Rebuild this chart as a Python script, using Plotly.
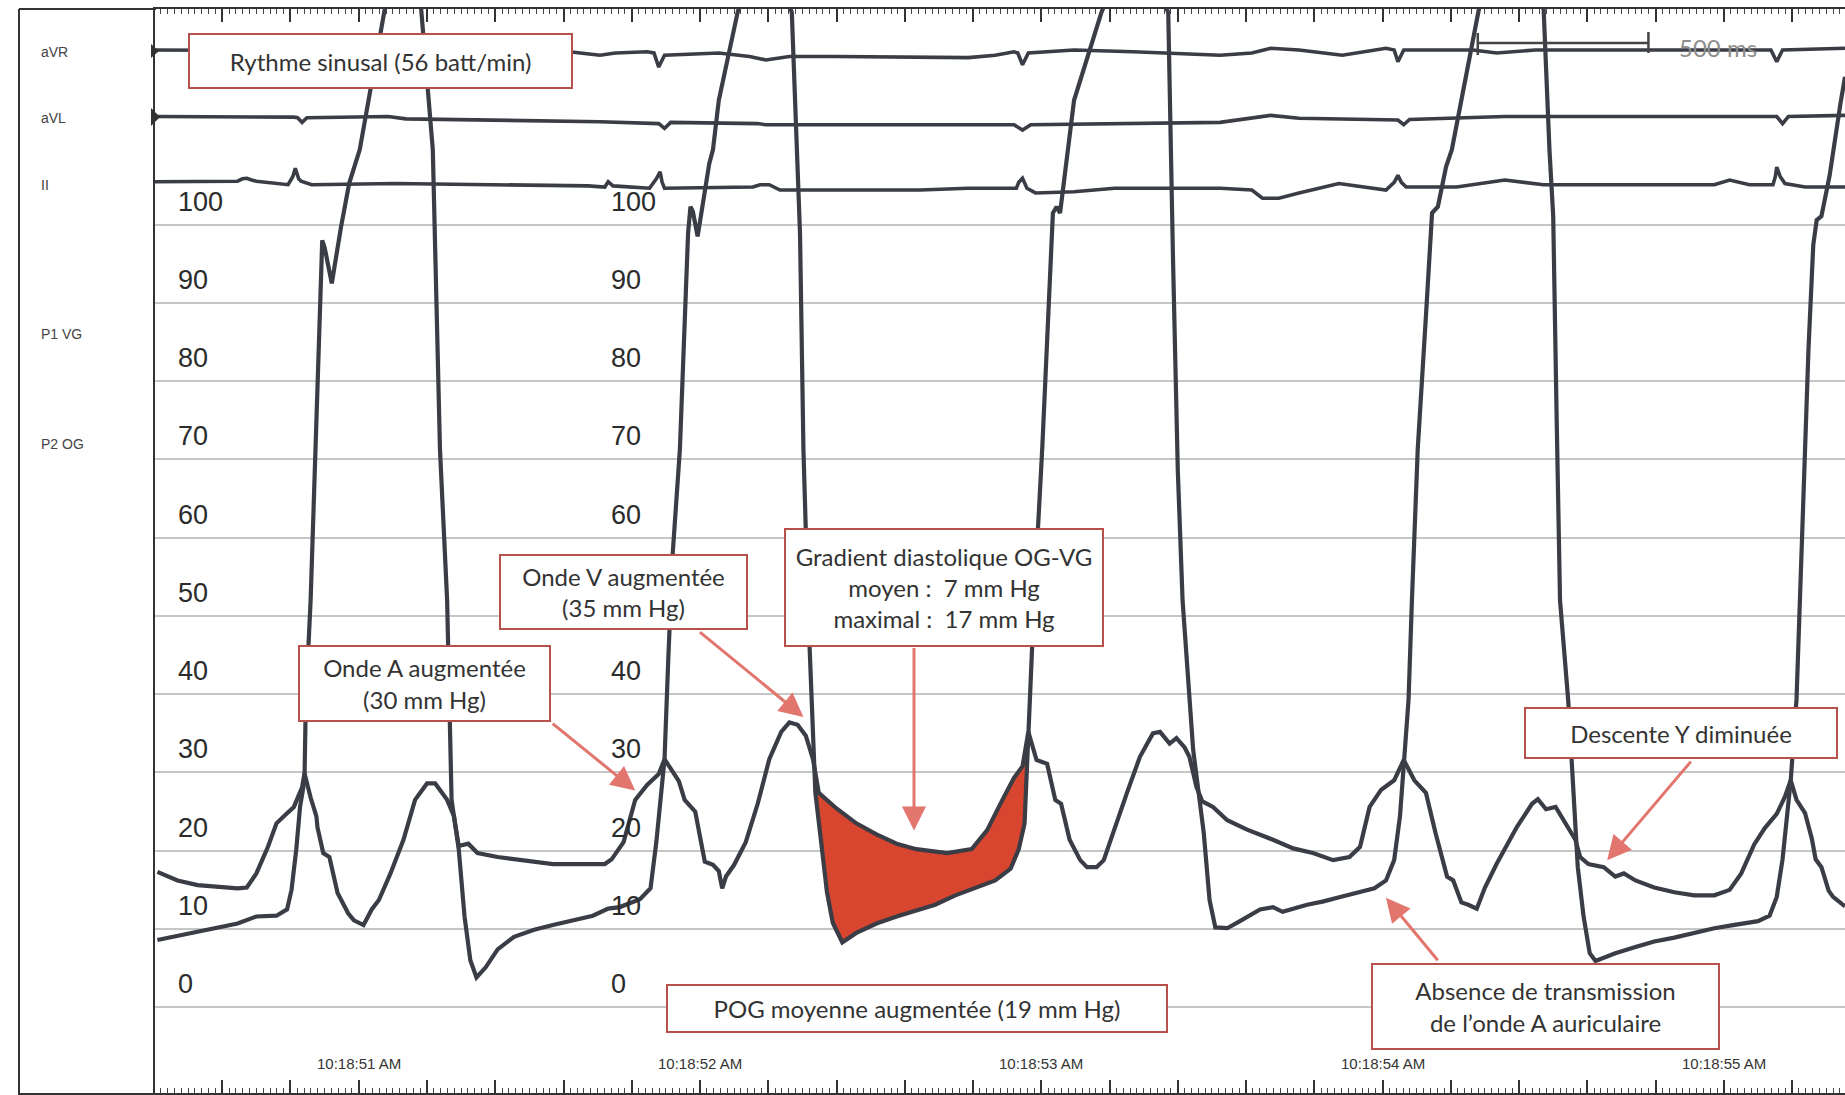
import plotly.graph_objects as go

# ---------------------------------------------------------------------------
# Time base: milliseconds after 10:18:50 AM
# ---------------------------------------------------------------------------
TIME_LABEL_MS = [1000, 2000, 3000, 4000, 5000]
TIME_LABELS = ["10:18:51 AM", "10:18:52 AM", "10:18:53 AM", "10:18:54 AM", "10:18:55 AM"]

# P1 VG : left ventricular pressure (mm Hg)
LV_T = [410, 528, 645, 700, 759, 790, 803, 817, 828, 841,
        845, 859, 872, 890, 893, 900, 921, 948, 972, 1003,
        1076, 1127, 1183, 1217, 1238, 1259, 1272, 1293, 1310, 1327,
        1345, 1372, 1407, 1455, 1514, 1569, 1627, 1686, 1731, 1765,
        1824, 1855, 1872, 1886, 1896, 1907, 1920, 1941, 1955, 1965,
        1972, 1979, 1993, 2014, 2027, 2038, 2055, 2110, 2189, 2269,
        2283, 2293, 2300, 2303, 2317, 2338, 2355, 2372, 2389, 2417,
        2458, 2517, 2576, 2631, 2689, 2748, 2807, 2865, 2910, 2934,
        2951, 2958, 2962, 2969, 2979, 3003, 3027, 3034, 3045, 3055,
        3096, 3176, 3276, 3372, 3386, 3400, 3414, 3445, 3476, 3493,
        3510, 3545, 3582, 3641, 3679, 3707, 3779, 3824, 3876, 3934,
        3976, 4010, 4034, 4051, 4062, 4076, 4086, 4103, 4127, 4145,
        4162, 4186, 4203, 4282, 4379, 4472, 4489, 4500, 4510, 4520,
        4544, 4562, 4572, 4589, 4607, 4624, 4658, 4682, 4741, 4796,
        4855, 4913, 4972, 5027, 5100, 5134, 5155, 5172, 5186, 5196,
        5213, 5234, 5248, 5262, 5272, 5286, 5310, 5341, 5355]
LV_P = [8.6, 9.6, 10.7, 11.6, 11.7, 12.5, 15.0, 20.2, 25.6, 29.0,
        39.2, 52.0, 71.3, 93.8, 98.0, 97.1, 92.5, 99.7, 105.3, 109.6,
        127.5, 138, 127.5, 109.6, 71.3, 52.0, 26.5, 20.2, 11.6, 6.0,
        3.8, 5.1, 7.4, 9.0, 9.9, 10.5, 11.1, 11.7, 12.6, 12.8,
        13.8, 15.2, 21.1, 26.9, 31.7, 44.5, 58.0, 71.3, 88.3, 98.9,
        102.3, 101.7, 98.5, 104.5, 107.8, 109.6, 115.9, 127.1, 138, 127.1,
        109.6, 98.9, 79.7, 71.3, 50.5, 27.4, 21.1, 14.7, 10.8, 8.3,
        9.5, 10.7, 11.6, 12.3, 13.1, 14.3, 15.2, 16.2, 17.7, 20.2,
        23.5, 30.8, 35.2, 43.5, 52.0, 71.6, 95.5, 101.5, 102.3, 101.5,
        115.9, 127.1, 138, 127.1, 95.5, 68.6, 52.0, 32.9, 22.3, 13.7,
        10.2, 10.1, 11.0, 12.5, 12.8, 12.2, 13.1, 13.5, 14.1, 14.7,
        15.2, 16.2, 18.8, 24.4, 31.0, 39.2, 52.0, 71.3, 88.3, 101.5,
        102.3, 107.4, 109.6, 127.5, 138, 127.5, 109.6, 101.1, 75.5, 52.0,
        39.2, 26.5, 17.9, 11.6, 6.9, 5.9, 6.5, 6.9, 7.7, 8.4,
        8.9, 9.5, 10.1, 10.5, 11.0, 11.7, 14.1, 18.9, 25.0, 29.0,
        39.4, 66.2, 84.1, 97.4, 100.6, 101.1, 106.3, 115.3, 118.9]

# P2 OG : left atrial pressure (mm Hg)
LA_T = [410, 469, 528, 645, 672, 700, 734, 759, 783, 810,
        834, 841, 859, 876, 879, 896, 914, 938, 969, 986,
        1014, 1038, 1059, 1093, 1131, 1165, 1200, 1224, 1259, 1279,
        1293, 1321, 1348, 1407, 1569, 1686, 1721, 1741, 1776, 1810,
        1845, 1879, 1896, 1938, 1955, 1986, 2014, 2038, 2055, 2065,
        2076, 2100, 2134, 2169, 2203, 2238, 2262, 2286, 2310, 2331,
        2348, 2400, 2458, 2517, 2576, 2634, 2724, 2796, 2841, 2886,
        2920, 2945, 2962, 2986, 3017, 3041, 3058, 3083, 3114, 3134,
        3162, 3183, 3210, 3251, 3289, 3327, 3348, 3376, 3396, 3420,
        3434, 3455, 3472, 3503, 3545, 3603, 3679, 3738, 3796, 3855,
        3903, 3934, 3962, 3996, 4034, 4062, 4093, 4127, 4155, 4189,
        4207, 4231, 4251, 4276, 4300, 4334, 4393, 4438, 4455, 4479,
        4507, 4544, 4565, 4579, 4603, 4648, 4682, 4707, 4741, 4796,
        4855, 4913, 4972, 5017, 5051, 5089, 5120, 5155, 5179, 5196,
        5213, 5238, 5258, 5269, 5286, 5307, 5320, 5355]
LA_P = [17.3, 16.2, 15.6, 15.2, 15.3, 17.1, 20.5, 23.5, 24.5, 25.6,
        28.1, 29.9, 26.8, 24.4, 23.0, 19.7, 19.2, 14.6, 12.0, 11.1,
        10.5, 12.5, 13.7, 17.1, 21.4, 26.5, 28.6, 28.6, 26.5, 24.4,
        20.6, 20.9, 19.7, 19.2, 18.3, 18.2, 18.3, 18.9, 21.1, 26.5,
        28.4, 29.8, 31.7, 28.9, 26.5, 25.0, 18.6, 18.2, 17.4, 15.2,
        16.7, 18.2, 21.1, 26.0, 31.7, 35.2, 36.4, 36.1, 34.7, 31.7,
        27.4, 25.4, 23.5, 22.1, 20.9, 20.2, 19.7, 20.2, 22.6, 26.5,
        29.3, 30.8, 35.2, 31.6, 31.1, 26.5, 26.0, 21.4, 18.8, 17.9,
        17.9, 18.8, 22.3, 27.4, 32.0, 35.0, 35.2, 33.7, 34.4, 33.2,
        32.0, 28.1, 26.3, 25.6, 23.9, 22.7, 21.4, 20.3, 19.7, 18.8,
        19.2, 20.5, 25.6, 27.8, 29.0, 31.6, 29.0, 27.4, 22.3, 16.7,
        16.2, 13.4, 13.1, 12.6, 15.3, 18.3, 23.0, 26.0, 26.6, 25.3,
        25.6, 23.0, 21.4, 19.2, 18.3, 17.9, 16.7, 17.1, 16.2, 15.3,
        14.7, 14.3, 14.3, 15.0, 17.1, 20.8, 22.9, 24.7, 26.9, 29.0,
        26.5, 24.8, 21.5, 18.9, 17.9, 14.9, 14.1, 12.9]

# ECG leads (mV)
AVR_T = [403, 638, 810, 817, 828, 838, 983, 1327, 1617, 1707,
         1752, 1845, 1865, 1879, 1896, 2055, 2145, 2193, 2262, 2400,
         2786, 2865, 2920, 2931, 2945, 2962, 3096, 3269, 3524, 3617,
         3672, 3755, 3882, 4010, 4034, 4045, 4062, 4265, 4334, 4448,
         5138, 5155, 5172, 5355]
AVR_MV = [0.025, 0, 0, -0.05, -0.45, -0.05, 0, -0.05, -0.05, -0.2,
          -0.1, -0.05, -0.1, -0.7, -0.2, -0.1, -0.25, -0.4, -0.25, -0.25,
          -0.3, -0.2, -0.05, -0.1, -0.6, -0.1, 0.025, -0.05, -0.2, -0.1,
          0.1, 0.025, -0.2, 0.1, 0.025, -0.475, 0.025, 0.025, -0.1, 0.025,
          0.025, -0.475, 0.025, 0.1]

AVL_T = [403, 638, 810, 821, 834, 848, 1086, 1138, 1707, 1879,
         1896, 1914, 2169, 2193, 2920, 2945, 2969, 3524, 3672, 3755,
         4045, 4062, 4079, 4358, 5155, 5172, 5189, 5355]
AVL_MV = [0.05, 0.05, 0.025, 0, -0.2, 0, 0.05, -0.05, -0.17, -0.25,
          -0.45, -0.2, -0.25, -0.3, -0.3, -0.525, -0.3, -0.2, 0.1, -0.025,
          -0.1, -0.3, -0.075, 0.05, 0.05, -0.25, 0.05, 0.1]

II_T = [403, 645, 659, 672, 686, 700, 793, 807, 814, 824,
        831, 862, 1107, 1327, 1672, 1721, 1731, 1745, 1852, 1872,
        1883, 1889, 1896, 2155, 2176, 2203, 2234, 2645, 2786, 2927,
        2934, 2945, 2958, 2983, 3096, 3214, 3524, 3617, 3648, 3696,
        3755, 3872, 4010, 4034, 4045, 4055, 4069, 4217, 4358, 4472,
        4972, 5017, 5075, 5144, 5151, 5155, 5165, 5179, 5238, 5355]
II_MV = [0.125, 0.15, 0.25, 0.275, 0.2, 0.15, 0, 0.35, 0.7, 0.25,
         0.15, 0, 0.05, 0, -0.05, -0.1, 0.125, -0.05, -0.15, 0.25,
         0.55, 0.1, -0.15, -0.1, 0, 0, -0.225, -0.225, -0.15, -0.15,
         0.1, 0.275, -0.15, -0.35, -0.3, -0.15, -0.15, -0.225, -0.575, -0.575,
         -0.35, 0.05, -0.225, 0.1, 0.4, 0.1, -0.1, -0.1, 0.2, 0,
         0, 0.2, 0, 0, 0.35, 0.75, 0.35, 0.05, -0.1, -0.1]

PRESSURE_TICKS = list(range(0, 101, 10))
# the second printed scale loses its "50" under the V-wave callout
PRESSURE_TICKS_MID = [v for v in PRESSURE_TICKS if v != 50]
GRADIENT_WINDOW_MS = (2338, 2962)     # diastolic filling period shaded in red
SCALE_BAR_START_MS = 4279
SCALE_BAR_LEN_MS = 500

for a, b in [(LV_T, LV_P), (LA_T, LA_P), (AVR_T, AVR_MV), (AVL_T, AVL_MV), (II_T, II_MV)]:
    assert len(a) == len(b)

# ---------------------------------------------------------------------------
W, H = 1845, 1095


def px(x):
    return x / W


def py(y):
    return 1 - y / H


INK = "#3a3d46"
BOX_EDGE = "#b8514b"
ARROW = "#e2756d"
FILL_RED = "#d8462f"
BOX_FONT = dict(family="Lato, sans-serif", size=24, color="#333333")
NUM_FONT = dict(family="Liberation Sans, Arial, sans-serif", size=27, color="#2b2b2b")
SMALL_FONT = dict(family="Liberation Sans, Arial, sans-serif", size=15, color="#333333")
LEAD_FONT = dict(family="Liberation Sans, Arial, sans-serif", size=14, color="#444444")

fig = go.Figure()

# Mitral gradient area between atrial (top) and ventricular (bottom) pressure
t0, t1 = GRADIENT_WINDOW_MS
la_seg = [(t, p) for t, p in zip(LA_T, LA_P) if t0 <= t <= t1]
lv_seg = [(t, p) for t, p in zip(LV_T, LV_P) if t0 <= t <= t1]
poly = la_seg + lv_seg[::-1]
fig.add_trace(go.Scatter(
    x=[q[0] for q in poly], y=[q[1] for q in poly],
    fill="toself", fillcolor=FILL_RED, mode="lines", line=dict(width=0),
    hoverinfo="skip", showlegend=False, xaxis="x", yaxis="y"))

fig.add_trace(go.Scatter(x=LA_T, y=LA_P, mode="lines", name="P2 OG",
                         line=dict(color=INK, width=4.2), showlegend=False,
                         xaxis="x", yaxis="y"))
fig.add_trace(go.Scatter(x=LV_T, y=LV_P, mode="lines", name="P1 VG",
                         line=dict(color=INK, width=4.2), showlegend=False,
                         xaxis="x", yaxis="y"))

for tt, vv, ax_name, nm in [(AVR_T, AVR_MV, "y2", "aVR"),
                            (AVL_T, AVL_MV, "y3", "aVL"),
                            (II_T, II_MV, "y4", "II")]:
    fig.add_trace(go.Scatter(x=tt, y=vv, mode="lines", name=nm,
                             line=dict(color=INK, width=3.6), showlegend=False,
                             xaxis="x", yaxis=ax_name))

# ---------------------------------------------------------------------------
def ecg_axis(base_y):
    half = 23.5 / H
    c = py(base_y)
    return dict(domain=[c - half, c + half], range=[-1, 1], anchor="x",
                visible=False, showgrid=False, zeroline=False, fixedrange=True)


fig.update_layout(
    width=W, height=H, autosize=False,
    margin=dict(l=0, r=0, t=0, b=0, pad=0),
    paper_bgcolor="white", plot_bgcolor="rgba(0,0,0,0)",
    xaxis=dict(
        domain=[px(155), 1], range=[403, 5355], anchor="y",
        showgrid=False, zeroline=False, showticklabels=False,
        showline=True, linecolor="#333333", linewidth=2, mirror="ticks",
        ticks="inside", tick0=0, dtick=200, ticklen=13, tickwidth=1.5,
        tickcolor="#333333",
        minor=dict(dtick=20, ticks="inside", ticklen=5, tickwidth=1,
                   tickcolor="#444444", showgrid=False),
    ),
    yaxis=dict(
        domain=[py(1093), py(9)], range=[-10.96, 127.57], anchor="x",
        tickmode="array", tickvals=PRESSURE_TICKS, showticklabels=False,
        ticks="", showgrid=True, gridcolor="#c6c6c6", gridwidth=2,
        zeroline=False, showline=True, linecolor="#333333", linewidth=2,
    ),
    yaxis2=ecg_axis(50.6),
    yaxis3=ecg_axis(117.7),
    yaxis4=ecg_axis(184.7),
)

shapes = [
    # outer frame (left column of channel names)
    dict(type="line", xref="paper", yref="paper", x0=px(19), x1=px(19),
         y0=py(9), y1=py(1095), line=dict(color="#333333", width=2)),
    dict(type="line", xref="paper", yref="paper", x0=px(19), x1=px(156),
         y0=py(9), y1=py(9), line=dict(color="#333333", width=2)),
    dict(type="line", xref="paper", yref="paper", x0=px(19), x1=px(156),
         y0=py(1094), y1=py(1094), line=dict(color="#333333", width=2)),
    # channel markers for aVR / aVL
    dict(type="path", xref="paper", yref="paper",
         path=f"M {px(151)},{py(44)} L {px(159)},{py(51)} L {px(151)},{py(58)} Z",
         fillcolor="#333333", line=dict(width=0)),
    dict(type="path", xref="paper", yref="paper",
         path=f"M {px(151)},{py(108)} L {px(160)},{py(117)} L {px(151)},{py(126)} Z",
         fillcolor="#333333", line=dict(width=0)),
    # 500 ms calibration bar
    dict(type="line", xref="x", yref="paper", x0=SCALE_BAR_START_MS,
         x1=SCALE_BAR_START_MS + SCALE_BAR_LEN_MS, y0=py(43), y1=py(43),
         line=dict(color="#444444", width=2.5)),
    dict(type="line", xref="x", yref="paper", x0=SCALE_BAR_START_MS,
         x1=SCALE_BAR_START_MS, y0=py(33), y1=py(55),
         line=dict(color="#444444", width=2.5)),
    dict(type="line", xref="x", yref="paper", x0=SCALE_BAR_START_MS + SCALE_BAR_LEN_MS,
         x1=SCALE_BAR_START_MS + SCALE_BAR_LEN_MS, y0=py(32), y1=py(53),
         line=dict(color="#444444", width=2.5)),
]
fig.update_layout(shapes=shapes)

ann = []

# channel names
for txt, yy in [("aVR", 52), ("aVL", 118), ("II", 185), ("P1 VG", 334), ("P2 OG", 444)]:
    ann.append(dict(text=txt, xref="paper", yref="paper", x=px(39), y=py(yy),
                    xanchor="left", yanchor="middle", showarrow=False, font=LEAD_FONT))

# pressure scale, printed twice along the strip
for col_x, ticks in ((176, PRESSURE_TICKS), (609, PRESSURE_TICKS_MID)):
    for v in ticks:
        ann.append(dict(text=str(v), xref="paper", yref="y", x=px(col_x), y=v,
                        yshift=23, xanchor="left", yanchor="middle",
                        showarrow=False, font=NUM_FONT))

# clock labels
for t, lab in zip(TIME_LABEL_MS, TIME_LABELS):
    ann.append(dict(text=lab, xref="x", yref="paper", x=t, y=py(1063),
                    xanchor="center", yanchor="middle", showarrow=False,
                    font=SMALL_FONT))

ann.append(dict(text="500 ms", xref="x", yref="paper",
                x=SCALE_BAR_START_MS + SCALE_BAR_LEN_MS + 85, y=py(47),
                xanchor="left", yanchor="middle", showarrow=False,
                font=dict(family="Lato, sans-serif", size=24, color="#8c8c8c")))

# arrows (tip on the curve, tail at the callout box)
for tip_t, tip_p, dx, dy in [(1810, 27.7, -84, -68),
                             (2303, 37.1, -105, -86),
                             (2627, 22.6, 0, -184),
                             (4658, 18.8, 85, -100),
                             (4010, 14.0, 53, 64)]:
    ann.append(dict(text="", xref="x", yref="y", x=tip_t, y=tip_p,
                    ax=dx, ay=dy, showarrow=True, arrowhead=2, arrowsize=1.6,
                    arrowwidth=3, arrowcolor=ARROW, standoff=0))

# callout boxes
boxes = [
    ("Rythme sinusal (56 batt/min)", 188, 33, 573, 89),
    ("Onde A augmentée<br>(30 mm Hg)", 298, 645, 551, 722),
    ("Onde V augmentée<br>(35 mm Hg)", 499, 554, 748, 630),
    ("Gradient diastolique OG-VG<br>moyen\u00a0:\u00a0\u00a07 mm Hg<br>maximal\u00a0:\u00a0\u00a017 mm Hg",
     784, 528, 1104, 647),
    ("POG moyenne augmentée (19 mm Hg)", 666, 984, 1168, 1033),
    ("Descente Y diminuée", 1524, 707, 1838, 759),
    ("Absence de transmission<br>de l\u2019onde A auriculaire", 1371, 963, 1720, 1050),
]
for txt, x0, y0, x1, y1 in boxes:
    ann.append(dict(text=txt, xref="paper", yref="paper",
                    x=px((x0 + x1) / 2), y=py((y0 + y1) / 2),
                    xanchor="center", yanchor="middle", showarrow=False,
                    width=x1 - x0 - 4, height=y1 - y0 - 4, align="center",
                    valign="middle", bgcolor="white", bordercolor=BOX_EDGE,
                    borderwidth=2, borderpad=0, font=BOX_FONT))

fig.update_layout(annotations=ann)

fig.write_html("out.html")
